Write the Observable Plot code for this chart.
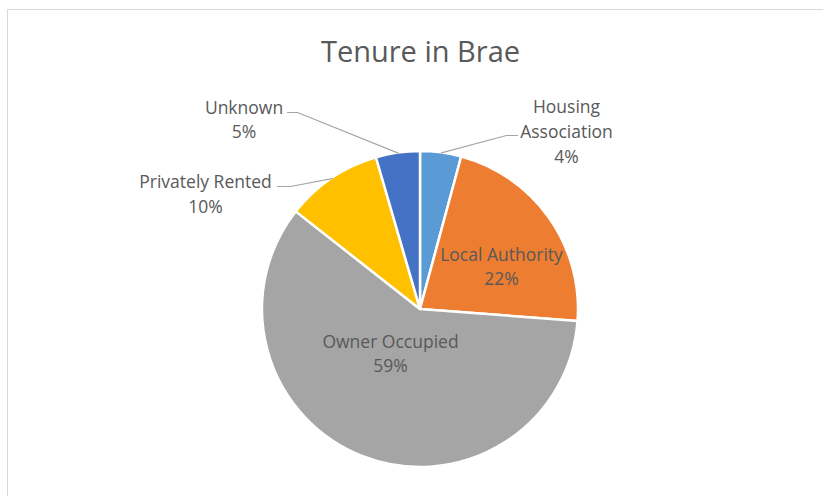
<!DOCTYPE html>
<html><head><meta charset="utf-8">
<script src="https://cdn.jsdelivr.net/npm/d3@7"></script>
<script src="https://cdn.jsdelivr.net/npm/@observablehq/plot@0.6"></script>
<style>
html,body{margin:0;padding:0;background:#fff;}
#wrap{position:relative;width:823px;height:496px;overflow:hidden;background:#fff;}
#wrap svg{display:block;}
#border{position:absolute;left:7px;top:9px;width:900px;height:600px;border-left:1.5px solid #d9d9d9;border-top:1.5px solid #d9d9d9;pointer-events:none;}
</style></head><body>
<div id="wrap"><div id="border"></div></div>
<script>
// ---- data ----
const title = "Tenure in Brae";
const categories = ["Housing Association", "Local Authority", "Owner Occupied", "Privately Rented", "Unknown"];
const shares = [4.2, 22.0, 59.4, 9.9, 4.5];
const pctLabels = ["4%", "22%", "59%", "10%", "5%"];
const labelNames = ["Housing\nAssociation", "Local Authority", "Owner Occupied", "Privately Rented", "Unknown"];
const colors = ["#5B9BD5", "#ED7D31", "#A5A5A5", "#FFC000", "#4472C4"];

// ---- layout (pixels) ----
const W = 823, H = 496, CX = 420, CY = 309, R = 158;
const labelOffset = [[146, -179.5], [81, -44.5], [-30, 42.5], [-215, -117], [-176.5, -191.5]];
const leaderBend = [[[86, -174], [97, -174]], null, null, [[-130, -123], [-143, -123]], [[-123, -197], [-133, -197]]];

const rows = categories.map((c, i) => ({cat: c, share: shares[i], pct: pctLabels[i], name: labelNames[i], color: colors[i]}));
const arcs = d3.pie().sort(null).value(d => d.share)(rows);
const arcGen = d3.arc().innerRadius(0).outerRadius(R);

const labels = arcs.map((a, i) => ({
  x: labelOffset[i][0], y: labelOffset[i][1],
  text: a.data.name + "\n" + a.data.pct
}));

const leaders = [];
arcs.forEach((a, i) => {
  if (!leaderBend[i]) return;
  const mid = (a.startAngle + a.endAngle) / 2;
  leaders.push({x: R * Math.sin(mid), y: -R * Math.cos(mid), k: i});
  leaderBend[i].forEach(p => leaders.push({x: p[0], y: p[1], k: i}));
});

function pieMark(index, scales) {
  const g = d3.create("svg:g");
  const ox = scales.x(0), oy = scales.y(0);
  g.attr("transform", `translate(${ox},${oy})`);
  g.selectAll("path").data(arcs).join("path")
    .attr("d", arcGen)
    .attr("fill", d => d.data.color)
    .attr("stroke", "#fff")
    .attr("stroke-width", 2.5)
    .attr("stroke-linejoin", "round");
  return g.node();
}

const chart = Plot.plot({
  width: W, height: H,
  margin: 0,
  x: {type: "linear", domain: [-CX, W - CX], range: [0, W], axis: null},
  y: {type: "linear", domain: [-CY, H - CY], range: [0, H], axis: null},
  style: {fontFamily: "'Open Sans', sans-serif", background: "transparent"},
  marks: [
    pieMark,
    Plot.line(leaders, {x: "x", y: "y", z: "k", stroke: "#a6a6a6", strokeWidth: 1.2}),
    Plot.text(labels, {x: "x", y: "y", text: "text", fill: "#595959", fontSize: 17.5, lineHeight: 1.42, textAnchor: "middle", lineAnchor: "middle"}),
    Plot.text([title], {frameAnchor: "top", dx: 8.5, dy: 52.5, lineAnchor: "middle", text: d => d, fill: "#595959", fontSize: 29})
  ]
});
document.getElementById("wrap").insertBefore(chart, document.getElementById("border"));
</script>
</body></html>
